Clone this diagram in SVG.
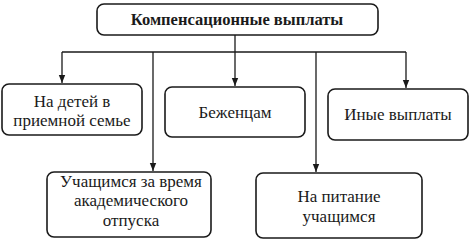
<svg xmlns="http://www.w3.org/2000/svg" width="470" height="241" viewBox="0 0 470 241">
<defs>
<style>
.box{fill:#fff;stroke:#1a1a1a;stroke-width:1.6}
.t{font-family:'Liberation Serif','Times New Roman',serif;font-size:17px;fill:#1a1a1a;text-anchor:middle}
.b{font-weight:bold;font-size:16.5px}
.c{fill:none;stroke:#1a1a1a;stroke-width:1.3}
</style>
<marker id="ar" viewBox="0 0 10 10" refX="10" refY="5" markerWidth="8" markerHeight="8" markerUnits="userSpaceOnUse" orient="auto">
<path d="M0,1 L10,5 L0,9 z" fill="#1a1a1a"/>
</marker>
</defs>
<rect width="470" height="241" fill="#fff"/>
<g id="connectors">
<line class="c" x1="235" y1="35" x2="235" y2="52"/>
<line class="c" x1="62" y1="52" x2="406" y2="52"/>
<line class="c" x1="62" y1="52" x2="62" y2="83" marker-end="url(#ar)"/>
<line class="c" x1="235" y1="52" x2="235" y2="86" marker-end="url(#ar)"/>
<line class="c" x1="406" y1="52" x2="406" y2="88" marker-end="url(#ar)"/>
<line class="c" x1="153" y1="52" x2="153" y2="171" marker-end="url(#ar)"/>
<line class="c" x1="316" y1="52" x2="316" y2="172" marker-end="url(#ar)"/>
</g>
<g id="root">
<rect class="box" x="97" y="4" width="281" height="31" rx="7"/>
<text class="t b" x="237" y="25">Компенсационные выплаты</text>
</g>
<g id="n1">
<rect class="box" x="2" y="84" width="140" height="51" rx="7"/>
<text class="t" x="72" y="107">На детей в</text>
<text class="t" x="72" y="126">приемной семье</text>
</g>
<g id="n2">
<rect class="box" x="165" y="87" width="140" height="50" rx="7"/>
<text class="t" x="235" y="118">Беженцам</text>
</g>
<g id="n3">
<rect class="box" x="328" y="89" width="140" height="51" rx="7"/>
<text class="t" x="398" y="120">Иные выплаты</text>
</g>
<g id="n4">
<rect class="box" x="47" y="172" width="164" height="65" rx="7"/>
<text class="t" x="131" y="187">Учащимся за время</text>
<text class="t" x="131" y="206">академического</text>
<text class="t" x="131" y="226">отпуска</text>
</g>
<g id="n5">
<rect class="box" x="256" y="173" width="166" height="65" rx="7"/>
<text class="t" x="339" y="202">На питание</text>
<text class="t" x="339" y="222">учащимся</text>
</g>
</svg>
